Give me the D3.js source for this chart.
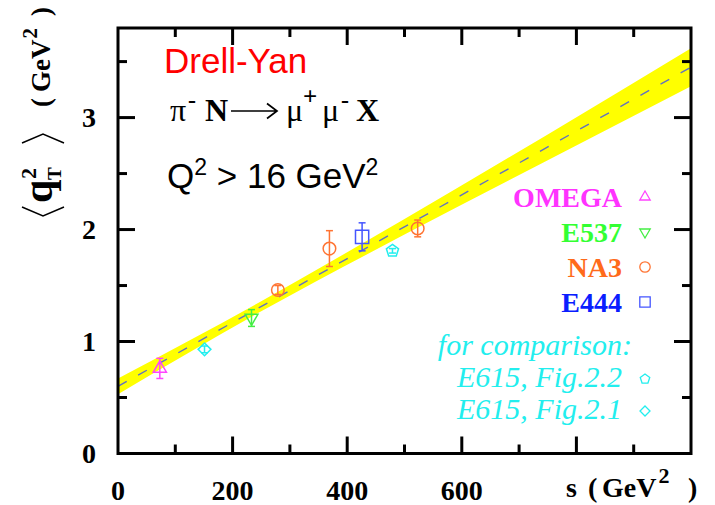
<!DOCTYPE html>
<html>
<head>
<meta charset="utf-8">
<script src="https://cdn.jsdelivr.net/npm/d3@7"></script>
<style>
  html, body { margin: 0; padding: 0; background: #fff; }
  svg { display: block; }
</style>
</head>
<body>
<svg id="chart" width="715" height="505"></svg>
<script>
// ---- data -------------------------------------------------------------
// s in GeV^2, <qT^2> in GeV^2, symmetric errors
const omegaS = [73],            omegaQ = [0.76],               omegaErr = [0.09];
const e537S  = [233],           e537Q  = [1.21],               e537Err  = [0.075];
const na3S   = [279, 369, 523], na3Q   = [1.46, 1.83, 2.01],   na3Err   = [0.04, 0.16, 0.075];
const e444S  = [426],           e444Q  = [1.935],              e444Err  = [0.125];
const e615aS = [479],           e615aQ = [1.81],               e615aErr = [0.02];   // Fig.2.2
const e615bS = [151],           e615bQ = [0.93],               e615bErr = [0.03];   // Fig.2.1

// linear fit and its uncertainty band
const fitS     = [0, 1000];
const fitQ     = [0.60, 3.45];
const bandS    = [0, 250, 500, 750, 1000];
const bandLow  = [0.53, 1.27, 1.955, 2.62, 3.28];
const bandHigh = [0.67, 1.36, 2.095, 2.85, 3.62];

const xTickLabels = [0, 200, 400, 600];
const yTickLabels = [0, 1, 2, 3];

// ---- layout -----------------------------------------------------------
const svg = d3.select("#chart");
const L = 118, R = 691, T = 28, B = 453.5;
const x = d3.scaleLinear().domain([0, 1000]).range([L, R]);
const y = d3.scaleLinear().domain([0, 3.8]).range([B, T]);

// band
const bandData = bandS.map((s, i) => ({s, lo: bandLow[i], hi: bandHigh[i]}));
svg.append("defs").append("clipPath").attr("id", "plotclip")
  .append("rect").attr("x", L).attr("y", T).attr("width", R - L).attr("height", B - T);
const plot = svg.append("g").attr("clip-path", "url(#plotclip)");
plot.append("path")
  .datum(bandData)
  .attr("fill", "#ffff00")
  .attr("d", d3.area().curve(d3.curveMonotoneX)
    .x(d => x(d.s)).y0(d => y(d.lo)).y1(d => y(d.hi)));
plot.append("path")
  .datum(fitS.map((s, i) => ({s, q: fitQ[i]})))
  .attr("fill", "none")
  .attr("stroke", "#6272c0")
  .attr("stroke-width", 1.4)
  .attr("stroke-dasharray", "10,13")
  .attr("d", d3.line().x(d => x(d.s)).y(d => y(d.q)));

// ---- markers ----------------------------------------------------------
function shape(kind, r) {
  let pts;
  if (kind === "up") pts = [[0, -r * 1.15], [r, r * 0.58], [-r, r * 0.58]];
  else if (kind === "down") pts = [[0, r * 1.15], [r, -r * 0.58], [-r, -r * 0.58]];
  else if (kind === "square") pts = [[-r, -r], [r, -r], [r, r], [-r, r]];
  else if (kind === "diamond") pts = [[0, -r], [r, 0], [0, r], [-r, 0]];
  else if (kind === "pentagon") pts = d3.range(5).map(i => {
    const a = -Math.PI / 2 + i * 2 * Math.PI / 5;
    return [r * Math.cos(a), r * Math.sin(a)];
  });
  if (kind === "circle") {
    const p = d3.path(); p.arc(0, 0, r, 0, 2 * Math.PI); return p.toString();
  }
  return d3.line()(pts) + "Z";
}

const series = [
  {s: omegaS, q: omegaQ, e: omegaErr, kind: "up",       r: 6.6, color: "#ff44ff"},
  {s: e615bS, q: e615bQ, e: e615bErr, kind: "diamond",  r: 6.4, color: "#22eeee"},
  {s: e537S,  q: e537Q,  e: e537Err,  kind: "down",     r: 6.4, color: "#44ee44"},
  {s: na3S,   q: na3Q,   e: na3Err,   kind: "circle",   r: 6.3, color: "#ff7433"},
  {s: e444S,  q: e444Q,  e: e444Err,  kind: "square",   r: 6.6, color: "#4455ff"},
  {s: e615aS, q: e615aQ, e: e615aErr, kind: "pentagon", r: 6.4, color: "#22eeee"}
];

series.forEach(sr => {
  const pts = sr.s.map((s, i) => ({s, q: sr.q[i], e: sr.e[i]}));
  const g = svg.append("g").attr("stroke", sr.color).attr("fill", "none").attr("stroke-width", 1.5);
  pts.forEach(d => {
    const cx = x(d.s);
    g.append("line").attr("x1", cx).attr("x2", cx).attr("y1", y(d.q - d.e)).attr("y2", y(d.q + d.e));
    [d.q - d.e, d.q + d.e].forEach(v => {
      g.append("line").attr("x1", cx - 3.5).attr("x2", cx + 3.5).attr("y1", y(v)).attr("y2", y(v));
    });
    g.append("path").attr("transform", `translate(${cx},${y(d.q)})`).attr("d", shape(sr.kind, sr.r));
  });
});

// ---- frame and ticks --------------------------------------------------
const frame = svg.append("g").attr("stroke", "#000").attr("stroke-width", 3);
frame.append("rect").attr("x", L).attr("y", T).attr("width", R - L).attr("height", B - T)
  .attr("fill", "none");
d3.range(100, 1000, 100).forEach(v => {
  const len = v % 200 === 0 ? 17 : 9;
  frame.append("line").attr("x1", x(v)).attr("x2", x(v)).attr("y1", B).attr("y2", B - len);
  frame.append("line").attr("x1", x(v)).attr("x2", x(v)).attr("y1", T).attr("y2", T + len);
});
d3.range(0.5, 3.8, 0.5).forEach(v => {
  const len = Math.abs(v - Math.round(v)) < 1e-6 ? 17 : 9;
  frame.append("line").attr("x1", L).attr("x2", L + len).attr("y1", y(v)).attr("y2", y(v));
  frame.append("line").attr("x1", R).attr("x2", R - len).attr("y1", y(v)).attr("y2", y(v));
});

const serif = "'Liberation Serif', 'Times New Roman', serif";
const sans = "'Liberation Sans', Arial, sans-serif";

svg.append("g").selectAll("text").data(xTickLabels).join("text")
  .attr("x", d => x(d)).attr("y", 500)
  .attr("text-anchor", "middle")
  .attr("font-family", serif).attr("font-weight", "bold").attr("font-size", 28)
  .text(d => d);
svg.append("g").selectAll("text").data(yTickLabels).join("text")
  .attr("x", 96).attr("y", d => y(d) + 9)
  .attr("text-anchor", "end")
  .attr("font-family", serif).attr("font-weight", "bold").attr("font-size", 28)
  .text(d => d);

// x-axis title
const xt = svg.append("g").attr("font-family", serif).attr("font-weight", "bold").attr("font-size", 28);
xt.append("text").attr("x", 566).attr("y", 497).text("s");
xt.append("text").attr("x", 588).attr("y", 497).text("(");
const xg = xt.append("text").attr("x", 602).attr("y", 497);
xg.append("tspan").text("GeV");
xg.append("tspan").attr("font-size", 22).attr("dy", -14).attr("dx", 2).text("2");
xt.append("text").attr("x", 688).attr("y", 497).text(")");

// y-axis title, rotated
const yt = svg.append("g").attr("transform", "translate(52,217) rotate(-90)");
const br = d3.line();
yt.append("path").attr("d", br([[10, -30], [1, -9], [10, 12]]))
  .attr("fill", "none").attr("stroke", "#000").attr("stroke-width", 1.5);
yt.append("text").attr("x", 14).attr("y", 0)
  .attr("font-family", serif).attr("font-weight", "bold").attr("font-size", 42).text("q");
yt.append("text").attr("x", 38).attr("y", -16)
  .attr("font-family", serif).attr("font-weight", "bold").attr("font-size", 22).text("2");
yt.append("text").attr("x", 37).attr("y", 9)
  .attr("font-family", serif).attr("font-weight", "bold").attr("font-size", 19).text("T");
yt.append("path").attr("d", br([[74, -30], [83, -9], [74, 12]]))
  .attr("fill", "none").attr("stroke", "#000").attr("stroke-width", 1.5);
const yu = yt.append("g").attr("font-family", serif).attr("font-weight", "bold").attr("font-size", 27);
yu.append("text").attr("x", 110).attr("y", -2).text("(");
const yg = yu.append("text").attr("x", 125).attr("y", -2);
yg.append("tspan").text("GeV");
yg.append("tspan").attr("font-size", 21).attr("dy", -13).attr("dx", 1).text("2");
yu.append("text").attr("x", 201).attr("y", -2).text(")");

// ---- annotations ------------------------------------------------------
svg.append("text").attr("x", 164).attr("y", 73)
  .attr("font-family", sans).attr("font-size", 35).attr("fill", "#ff0000").text("Drell-Yan");

// reaction: pi- N -> mu+ mu- X
const rx = svg.append("g").attr("font-family", serif).attr("font-size", 32).attr("fill", "#000");
rx.append("text").attr("x", 170).attr("y", 121).text("π");
rx.append("text").attr("x", 188).attr("y", 108).attr("font-size", 24).attr("font-weight", "bold").text("-");
rx.append("text").attr("x", 205).attr("y", 121).attr("font-weight", "bold").text("N");
svg.append("path")
  .attr("d", "M231,111 L276,111 M267,103.5 L277,111 L267,118.5")
  .attr("fill", "none").attr("stroke", "#000").attr("stroke-width", 1.7);
rx.append("text").attr("x", 286).attr("y", 121).text("μ");
rx.append("text").attr("x", 303).attr("y", 105).attr("font-size", 25).attr("font-weight", "bold").text("+");
rx.append("text").attr("x", 322).attr("y", 121).text("μ");
rx.append("text").attr("x", 341).attr("y", 108).attr("font-size", 24).attr("font-weight", "bold").text("-");
rx.append("text").attr("x", 356).attr("y", 121).attr("font-weight", "bold").text("X");

const qt = svg.append("text").attr("x", 167).attr("y", 188)
  .attr("font-family", sans).attr("font-size", 35).attr("fill", "#000");
qt.append("tspan").text("Q");
qt.append("tspan").attr("font-size", 23).attr("dy", -13).text("2");
qt.append("tspan").attr("dy", 13).text(" > 16 GeV");
qt.append("tspan").attr("font-size", 23).attr("dy", -13).text("2");

// ---- legend -----------------------------------------------------------
const legendNames  = ["OMEGA", "E537", "NA3", "E444"];
const legendKinds  = ["up", "down", "circle", "square"];
const legendColors = ["#ff33ff", "#33ff33", "#ff6a1a", "#0a1eff"];
const legendMark   = ["#ff44ff", "#44ee44", "#ff7433", "#4455ff"];
legendNames.forEach((n, i) => {
  const by = 207 + i * 35;
  svg.append("text").attr("x", 622).attr("y", by).attr("text-anchor", "end")
    .attr("font-family", serif).attr("font-weight", "bold").attr("font-size", 28)
    .attr("fill", legendColors[i]).text(n);
  svg.append("path").attr("transform", `translate(645,${by - 10})`)
    .attr("d", shape(legendKinds[i], 5.2))
    .attr("fill", "none").attr("stroke", legendMark[i]).attr("stroke-width", 1.3);
});

const compLines = ["for comparison:", "E615, Fig.2.2", "E615, Fig.2.1"];
const compKinds = [null, "pentagon", "diamond"];
compLines.forEach((t, i) => {
  const by = 355 + i * 32;
  svg.append("text").attr("x", i === 0 ? 632 : 622).attr("y", by).attr("text-anchor", "end")
    .attr("font-family", serif).attr("font-style", "italic").attr("font-size", 30)
    .attr("fill", "#22eeee").text(t);
  if (compKinds[i]) {
    svg.append("path").attr("transform", `translate(645,${by - 8})`)
      .attr("d", shape(compKinds[i], 5))
      .attr("fill", "none").attr("stroke", "#22eeee").attr("stroke-width", 1.3);
  }
});
</script>
</body>
</html>
